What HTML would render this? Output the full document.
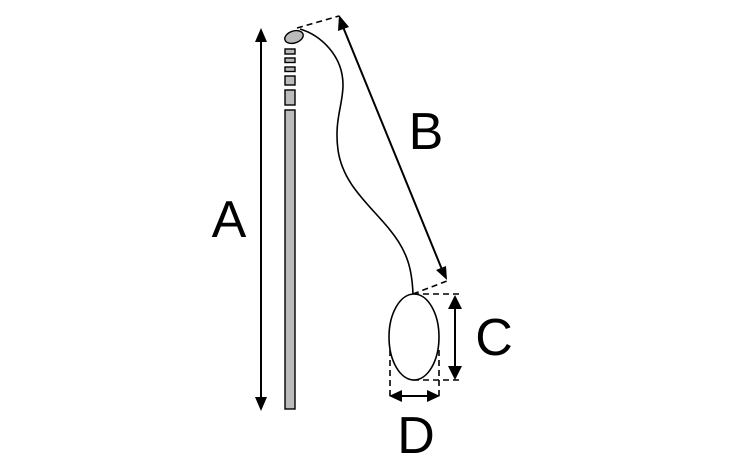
<!DOCTYPE html><html><head><style>body{margin:0;background:#fff}svg{display:block}</style></head><body>
<svg width="730" height="470" viewBox="0 0 730 470" xmlns="http://www.w3.org/2000/svg">
<g fill="#000">
<path d="M261,28 l-6,14 h12z"/><path d="M261,411 l-6,-14 h12z"/>
<path d="M339,15 l-1,16 l11,-4z"/><path d="M447,280 l-11,-10 l10,-4z"/>
<path d="M455,295 l-7,14 h14z"/><path d="M455,380 l-7,-14 h14z"/>
<path d="M389,396 l13,-6 v12z"/><path d="M440,396 l-13,-6 v12z"/>
</g>
<g stroke="#000" stroke-width="2" fill="none">
<line x1="261" y1="38" x2="261" y2="402"/>
<line x1="341" y1="22" x2="443" y2="272"/>
<line x1="455" y1="305" x2="455" y2="370"/>
<line x1="398" y1="396" x2="431" y2="396"/>
</g>
<g stroke="#000" stroke-width="1.6" fill="none" stroke-dasharray="6,4">
<line x1="297" y1="28" x2="339" y2="16"/>
<line x1="413" y1="294" x2="447" y2="281"/>
<line x1="413" y1="294" x2="460" y2="294"/>
<line x1="413" y1="380" x2="460" y2="380"/>
<line x1="390" y1="350" x2="390" y2="400"/>
<line x1="439" y1="350" x2="439" y2="400"/>
</g>
<path d="M300,29 C320,35 343,55 343,85 C343,105 334,120 338,150 C343,185 370,205 390,230 C408,252 412,270 413,294" stroke="#000" stroke-width="1.6" fill="none"/>
<ellipse cx="414" cy="337" rx="25" ry="43" stroke="#000" stroke-width="1.6" fill="#fff"/>
<g fill="#bbb" stroke="#000" stroke-width="1.4">
<ellipse cx="294" cy="37" rx="9.5" ry="6" transform="rotate(-18 294 37)"/>
<rect x="285" y="49" width="10" height="5"/>
<rect x="285" y="58" width="10" height="4.5"/>
<rect x="285" y="67" width="10" height="4.5"/>
<rect x="285" y="76" width="10" height="9"/>
<rect x="285" y="90" width="10" height="15"/>
<rect x="285" y="110" width="10" height="299"/>
</g>
<g font-family="Liberation Sans, sans-serif" font-size="52" fill="#000" text-anchor="middle">
<text x="229" y="237">A</text>
<text x="426" y="149">B</text>
<text x="494" y="355">C</text>
<text x="416" y="453">D</text>
</g>
</svg>
</body></html>
